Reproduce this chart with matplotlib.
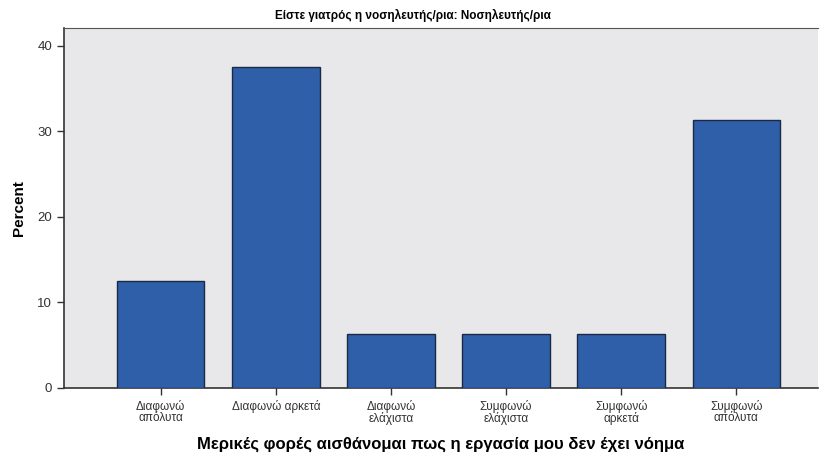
import matplotlib
matplotlib.use("Agg")
import matplotlib.pyplot as plt

plt.rcParams["font.family"] = ["Liberation Sans", "DejaVu Sans"]

# Data
categories = ["Διαφωνώ\nαπόλυτα", "Διαφωνώ αρκετά", "Διαφωνώ\nελάχιστα",
              "Συμφωνώ\nελάχιστα", "Συμφωνώ\nαρκετά", "Συμφωνώ\nαπόλυτα"]
percent = [12.5, 37.5, 6.25, 6.25, 6.25, 31.25]
yticks = [0, 10, 20, 30, 40]

C_BAR = "#2f5fa8"
C_EDGE = "#1a2a45"
C_BG = "#e8e8ea"

fig = plt.figure(figsize=(8.25, 4.54), dpi=100)
ax = fig.add_axes([0.0776, 0.1454, 0.914, 0.792])
ax.set_facecolor(C_BG)

x = list(range(len(categories)))
ax.bar(x, percent, width=0.76, color=C_BAR, edgecolor=C_EDGE, linewidth=1.0, zorder=3)

ax.set_xlim(-0.84, 5.71)
ax.set_ylim(0, 42)
ax.set_yticks(yticks)
ax.set_xticks(x)
ax.set_xticklabels(categories, fontsize=8.5, color="#222222", linespacing=0.95)
ax.tick_params(axis="y", labelsize=9.5, length=5, width=1, colors="#333333")
ax.tick_params(axis="x", length=5, width=1, colors="#333333")

ax.spines["right"].set_visible(False)
ax.spines["top"].set_linewidth(0.8)
ax.spines["top"].set_color("#555555")
ax.spines["left"].set_linewidth(1.2)
ax.spines["bottom"].set_linewidth(1.2)
ax.spines["left"].set_color("#333333")
ax.spines["bottom"].set_color("#333333")

ax.set_ylabel("Percent", fontsize=11, fontweight="bold", labelpad=8)
ax.set_xlabel("Μερικές φορές αισθάνομαι πως η εργασία μου δεν έχει νόημα",
              fontsize=12, fontweight="bold", labelpad=8)
fig.text(0.5, 0.966, "Είστε γιατρός η νοσηλευτής/ρια: Νοσηλευτής/ρια",
         ha="center", va="center", fontsize=8.5, fontweight="bold")

plt.savefig("out.png", dpi=100, facecolor="white")
plt.close()
